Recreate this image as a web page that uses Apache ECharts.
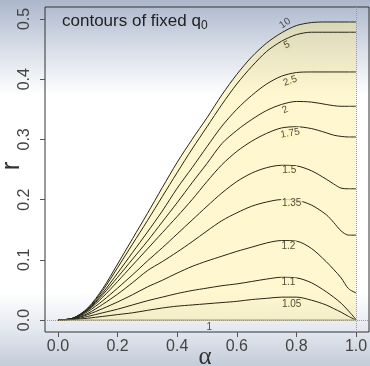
<!DOCTYPE html>
<html>
<head>
<meta charset="utf-8">
<script src="https://cdn.jsdelivr.net/npm/echarts/dist/echarts.min.js"></script>
<style>
  html, body { margin: 0; padding: 0; }
  #chart { width: 370px; height: 366px; }
</style>
</head>
<body>
<div id="chart"></div>
<script>
// alpha grid the contours were read at
const alpha = [0, 0.05, 0.1, 0.15, 0.2, 0.25, 0.3, 0.35, 0.4, 0.45, 0.5, 0.55, 0.6, 0.65, 0.7, 0.75, 0.8, 0.85, 0.9, 0.925, 0.95, 0.975, 1]

// r along each contour of fixed q0
const q10 = [0, 0.003, 0.020, 0.052, 0.093, 0.135, 0.177, 0.220, 0.262, 0.300, 0.336, 0.374, 0.408, 0.437, 0.460, 0.477, 0.489, 0.494, 0.495, 0.495, 0.495, 0.495, 0.495]
const q5 = [0, 0.003, 0.019, 0.049, 0.087, 0.126, 0.165, 0.205, 0.245, 0.284, 0.321, 0.358, 0.392, 0.421, 0.446, 0.463, 0.474, 0.478, 0.478, 0.478, 0.478, 0.478, 0.478]
const q2_5 = [0, 0.003, 0.018, 0.045, 0.078, 0.112, 0.146, 0.181, 0.219, 0.253, 0.288, 0.322, 0.350, 0.373, 0.392, 0.405, 0.411, 0.412, 0.412, 0.412, 0.412, 0.412, 0.412]
const q2 = [0, 0.003, 0.017, 0.042, 0.071, 0.101, 0.131, 0.163, 0.195, 0.228, 0.260, 0.293, 0.315, 0.333, 0.348, 0.358, 0.363, 0.362, 0.358, 0.356, 0.355, 0.355, 0.355]
const q1_75 = [0, 0.003, 0.016, 0.038, 0.064, 0.091, 0.118, 0.145, 0.172, 0.200, 0.230, 0.258, 0.280, 0.297, 0.310, 0.319, 0.321, 0.318, 0.311, 0.307, 0.305, 0.304, 0.304]
const q1_5 = [0, 0.002, 0.014, 0.032, 0.053, 0.075, 0.098, 0.120, 0.143, 0.166, 0.189, 0.211, 0.230, 0.244, 0.253, 0.257, 0.256, 0.248, 0.234, 0.226, 0.219, 0.218, 0.218]
const q1_35 = [0, 0.002, 0.011, 0.026, 0.043, 0.062, 0.082, 0.097, 0.113, 0.130, 0.148, 0.165, 0.178, 0.189, 0.196, 0.200, 0.199, 0.191, 0.175, 0.162, 0.148, 0.141, 0.141]
const q1_2 = [0, 0.002, 0.009, 0.019, 0.030, 0.042, 0.055, 0.066, 0.078, 0.089, 0.098, 0.106, 0.114, 0.121, 0.128, 0.132, 0.131, 0.119, 0.097, 0.084, 0.070, 0.052, 0.045]
const q1_1 = [0, 0.001, 0.006, 0.012, 0.018, 0.025, 0.032, 0.038, 0.044, 0.049, 0.053, 0.057, 0.060, 0.064, 0.068, 0.071, 0.070, 0.062, 0.047, 0.038, 0.028, 0.015, 0.001]
const q1_05 = [0, 0.001, 0.003, 0.006, 0.009, 0.012, 0.016, 0.020, 0.023, 0.025, 0.027, 0.029, 0.031, 0.034, 0.036, 0.038, 0.038, 0.033, 0.025, 0.019, 0.013, 0.006, 0.000]
const q1 = [0, 0, 0, 0, 0, 0, 0, 0, 0, 0, 0, 0, 0, 0, 0, 0, 0, 0, 0, 0, 0, 0, 0]

const curveNames = ['10', '5', '2.5', '2', '1.75', '1.5', '1.35', '1.2', '1.1', '1.05', '1']
const curves = [q10, q5, q2_5, q2, q1_75, q1_5, q1_35, q1_2, q1_1, q1_05, q1]

// contour labels (where R put them)
const labelText = ['10', '5', '2.5', '2', '1.75', '1.5', '1.35', '1.2', '1.1', '1.05', '1']
const labelAlpha = [0.762, 0.768, 0.779, 0.762, 0.779, 0.776, 0.784, 0.773, 0.773, 0.784, 0.508]
const labelR = [0.493, 0.457, 0.397, 0.349, 0.310, 0.248, 0.194, 0.123, 0.062, 0.027, -0.012]
const labelRot = [35, 25, 20, 25, 10, 0, 0, 0, 0, 0, 0]
const labelBg = ['transparent', '#e6e0b4', '#fbf3c2', '#fff5c4', '#fff5c4', '#fff5c4', '#fff5c4', '#fff5c4', '#fff5c4', '#fbf3c2', 'transparent']

const xTicks = [0, 0.2, 0.4, 0.6, 0.8, 1.0]
const yTicks = [0, 0.1, 0.2, 0.3, 0.4, 0.5]

const FONT = '"Liberation Sans", Arial, sans-serif'

const chart = echarts.init(document.getElementById('chart'))

const series = curves.map((c, i) => ({
  type: 'line',
  name: curveNames[i],
  data: alpha.map((a, j) => [a, c[j]]),
  smooth: 0.3,
  showSymbol: false,
  silent: true,
  lineStyle: { color: i === 10 ? '#a09558' : '#262614', width: 1 },
  areaStyle: i === 0 ? { color: 'rgba(255,236,140,0.58)' } : undefined,
  markLine: i === 10 ? {
    silent: true,
    symbol: 'none',
    label: { show: false },
    lineStyle: { type: 'dotted', color: '#9a9a9a', width: 1 },
    data: [{ xAxis: 1 }, { yAxis: 0 }]
  } : undefined,
  z: 2
}))

series.push({
  type: 'scatter',
  symbolSize: 1,
  itemStyle: { color: 'transparent' },
  silent: true,
  z: 5,
  data: labelText.map((t, i) => ({
    value: [labelAlpha[i], labelR[i]],
    label: {
      show: true,
      position: 'inside',
      formatter: t,
      rotate: labelRot[i],
      fontSize: 10,
      fontFamily: FONT,
      color: '#222',
      backgroundColor: labelBg[i],
      padding: [0, 1]
    }
  }))
})

chart.setOption({
  animation: false,
  backgroundColor: {
    type: 'linear', x: 0, y: 0, x2: 0, y2: 1,
    colorStops: [
      { offset: 0, color: '#acb7cc' },
      { offset: 0.12, color: '#d4dae5' },
      { offset: 0.26, color: '#ffffff' },
      { offset: 0.8, color: '#ffffff' },
      { offset: 0.9, color: '#e4e8ef' },
      { offset: 1, color: '#c4ccd9' }
    ]
  },
  grid: {
    left: 45, right: 1, top: 7, bottom: 34,
    outerBoundsMode: 'none',
    containLabel: false,
    show: true, borderColor: '#333', borderWidth: 1
  },
  graphic: [{
    type: 'text',
    left: 62,
    top: 13,
    style: {
      text: '{a|contours of fixed q}{b|0}',
      rich: {
        a: { fontSize: 17, fontFamily: FONT, fill: '#222' },
        b: { fontSize: 12, fontFamily: FONT, fill: '#222', padding: [8, 0, 0, 0] }
      }
    }
  }, {
    type: 'text',
    x: 205,
    y: 357,
    style: {
      text: 'α',
      fontSize: 25,
      fontFamily: '"Liberation Serif", serif',
      fill: '#333',
      align: 'center',
      verticalAlign: 'middle'
    }
  }, {
    type: 'text',
    x: 12,
    y: 166,
    rotation: Math.PI / 2,
    style: {
      text: 'r',
      fontSize: 26,
      fontFamily: FONT,
      fill: '#333',
      align: 'center',
      verticalAlign: 'middle'
    }
  }],
  xAxis: {
    type: 'value',
    min: -0.0436,
    max: 1.0436,
    axisLine: { show: false, onZero: false },
    splitLine: { show: false },
    axisTick: { show: true, inside: false, length: 5, customValues: xTicks, lineStyle: { color: '#555' } },
    axisLabel: {
      customValues: xTicks,
      formatter: v => v.toFixed(1),
      fontSize: 16, fontFamily: FONT, color: '#444', margin: 7
    }
  },
  yAxis: {
    type: 'value',
    min: -0.0199,
    max: 0.5199,
    axisLine: { show: false, onZero: false },
    splitLine: { show: false },
    axisTick: { show: true, inside: false, length: 5, customValues: yTicks, lineStyle: { color: '#555' } },
    axisLabel: {
      customValues: yTicks,
      rotate: 90,
      formatter: v => v.toFixed(1),
      fontSize: 16, fontFamily: FONT, color: '#444', margin: 12
    }
  },
  series: series
})
</script>
</body>
</html>
